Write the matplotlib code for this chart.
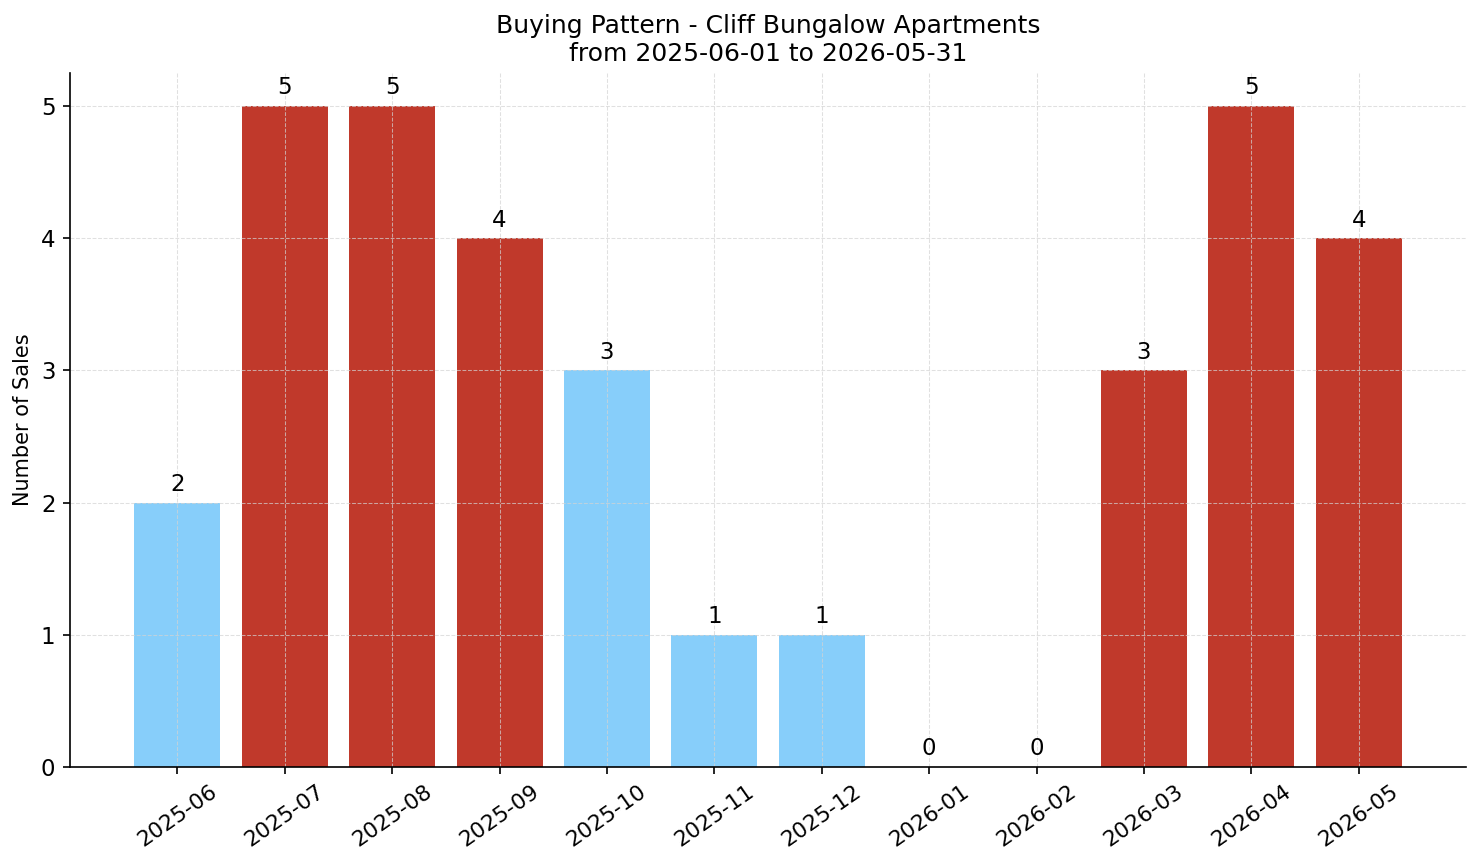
import matplotlib

matplotlib.use("Agg")
import matplotlib.pyplot as plt

# Monthly sales counts.
MONTHS = [
    "2025-06", "2025-07", "2025-08", "2025-09", "2025-10", "2025-11",
    "2025-12", "2026-01", "2026-02", "2026-03", "2026-04", "2026-05",
]
SALES = [2, 5, 5, 4, 3, 1, 1, 0, 0, 3, 5, 4]
# Flag months drawn in the highlight colour.
HIGHLIGHT = [False, True, True, True, False, False, False, False, False, True, True, True]

TITLE = "Buying Pattern - Cliff Bungalow Apartments\nfrom 2025-06-01 to 2026-05-31"
RED = "#C0392B"
BLUE = "#87CEFA"


def main() -> None:
    fig, ax = plt.subplots(figsize=(1481 / 150, 863 / 150), dpi=150)

    positions = list(range(len(MONTHS)))
    colors = [RED if flag else BLUE for flag in HIGHLIGHT]
    ax.bar(positions, SALES, width=0.8, color=colors)

    for x, value in zip(positions, SALES):
        ax.text(x, value + 0.05, str(value), ha="center", va="bottom", fontsize=11)

    ax.set_xticks(positions)
    ax.set_xticklabels(MONTHS, rotation=35, fontsize=10.5)
    ax.set_yticks(range(0, 6))
    ax.tick_params(axis="y", labelsize=11)
    ax.set_xlim(-1, len(MONTHS))
    ax.set_ylim(0, 5.25)

    ax.set_ylabel("Number of Sales", fontsize=10)
    ax.set_title(TITLE, fontsize=12)
    # Light dashed grid, drawn over the bars.
    ax.grid(True, linestyle="--", linewidth=0.5, color="lightgray", alpha=0.7)
    ax.spines["top"].set_visible(False)
    ax.spines["right"].set_visible(False)

    fig.subplots_adjust(left=0.0473, right=0.9899, bottom=0.1112, top=0.9154)
    fig.savefig("out.png", dpi=150)


if __name__ == "__main__":
    main()
